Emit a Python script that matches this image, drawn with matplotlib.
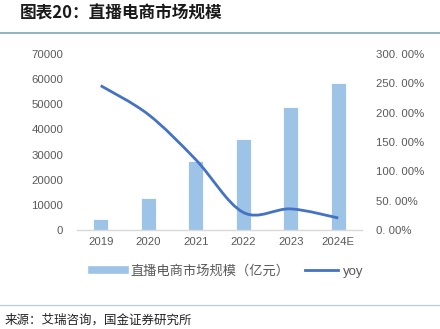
import matplotlib
matplotlib.use("Agg")
import matplotlib.pyplot as plt
from matplotlib.path import Path
from matplotlib.patches import PathPatch
from matplotlib.lines import Line2D
from matplotlib.ticker import FuncFormatter, MultipleLocator
import numpy as np

plt.rcParams['font.family'] = ['Noto Sans CJK SC', 'DejaVu Sans']

categories = ['2019', '2020', '2021', '2022', '2023', '2024E']
market_size = [4338, 12850, 27400, 36300, 49000, 58500]
yoy = [246, 197, 120, 30, 36, 20.5]
bar_label = '直播电商市场规模（亿元）'
line_label = 'yoy'
title = '图表20：直播电商市场规模'
source = '来源：艾瑞咨询，国金证券研究所'

W, H = 440, 329
fig = plt.figure(figsize=(W / 100, H / 100), dpi=100)
fig.patch.set_facecolor('white')

# axes box in pixels: x 77..362, y 54..230
ax = fig.add_axes([77 / W, 1 - 230 / H, (362 - 77) / W, (230 - 54) / H])
ax2 = ax.twinx()

bar_color = '#9DC3E6'
line_color = '#4472C4'
tick_color = '#595959'

x = np.arange(len(categories))
ax.bar(x, market_size, width=0.32, color=bar_color, edgecolor='white', linewidth=0.6, zorder=2)
ax.set_xlim(-0.5, len(categories) - 0.5)
ax.set_ylim(0, 70000)
ax.yaxis.set_major_locator(MultipleLocator(10000))
ax.set_xticks(x)
ax.set_xticklabels(categories)

ax2.set_ylim(0, 300)
ax2.yaxis.set_major_locator(MultipleLocator(50))
ax2.yaxis.set_major_formatter(FuncFormatter(lambda v, p: f"{v:.2f}".replace('.', '. ') + '%'))

# smooth line through yoy points (Catmull-Rom as cubic Bezier)
pts = np.column_stack([x, yoy]).astype(float)
ext = np.vstack([pts[0], pts, pts[-1]])
verts = [tuple(pts[0])]
codes = [Path.MOVETO]
for i in range(len(pts) - 1):
    p0, p1, p2, p3 = ext[i], ext[i + 1], ext[i + 2], ext[i + 3]
    c1 = p1 + (p2 - p0) / 6.0
    c2 = p2 - (p3 - p1) / 6.0
    verts += [tuple(c1), tuple(c2), tuple(p2)]
    codes += [Path.CURVE4, Path.CURVE4, Path.CURVE4]
patch = PathPatch(Path(verts, codes), facecolor='none', edgecolor=line_color,
                  linewidth=2.0, capstyle='butt', zorder=3)
ax2.add_patch(patch)

for a in (ax, ax2):
    for s in a.spines.values():
        s.set_visible(False)
    a.tick_params(length=0, colors=tick_color, labelsize=8.2)
ax.spines['bottom'].set_visible(True)
ax.spines['bottom'].set_color('#D9D9D9')
ax.spines['bottom'].set_linewidth(1.0)
ax.tick_params(axis='y', pad=10)
ax.tick_params(axis='x', pad=5)
ax2.tick_params(axis='y', pad=10)
for lab in ax.get_yticklabels() + ax.get_xticklabels() + ax2.get_yticklabels():
    lab.set_family(['Liberation Sans', 'DejaVu Sans'])
    lab.set_color(tick_color)

# legend
handles = [Line2D([0], [0], color=bar_color, linewidth=5.5),
           Line2D([0], [0], color=line_color, linewidth=2.0)]
leg = fig.legend(handles, [bar_label, line_label], loc='center', bbox_to_anchor=(228 / W, 1 - 271 / H),
                 ncol=2, frameon=False, fontsize=9.5, handlelength=2.5, handletextpad=0.35,
                 columnspacing=1.25)
for t in leg.get_texts():
    t.set_color(tick_color)
leg.get_texts()[1].set_family(['Liberation Sans', 'DejaVu Sans'])

# title and separators
fig.text(20 / W, 1 - 13 / H, title, fontsize=12, fontweight='bold', va='center', ha='left', color='#1a1a1a')
fig.add_artist(Line2D([0, 1], [1 - 33 / H, 1 - 33 / H], color='#7FA8B8', linewidth=1.2))
fig.add_artist(Line2D([0, 1], [1 - 305 / H, 1 - 305 / H], color='#B8CCD8', linewidth=0.9))
fig.text(5 / W, 1 - 320 / H, source, fontsize=9, va='center', ha='left', color='#222222')

fig.savefig('out.png', dpi=100, facecolor='white')
